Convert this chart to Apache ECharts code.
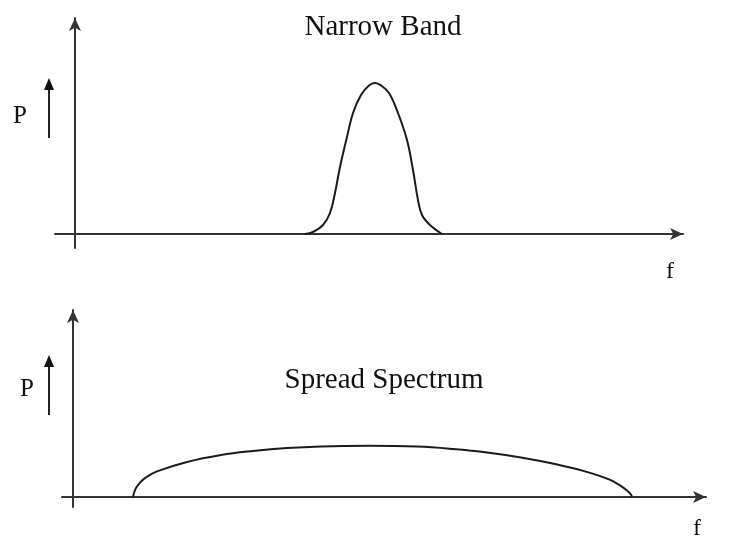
<!DOCTYPE html>
<html>
<head>
<meta charset="utf-8">
<title>Narrow Band vs Spread Spectrum</title>
<script src="https://cdn.jsdelivr.net/npm/echarts@6/dist/echarts.min.js"></script>
<style>
  html, body { margin: 0; padding: 0; background: #fff; }
  #main { width: 740px; height: 544px; }
</style>
</head>
<body>
<div id="main"></div>
<script>
// narrow band spectrum (f, P)
const nbFreq = [115, 119, 124, 127.5, 130, 132.5, 136, 139, 143, 147, 150, 153, 157, 161.5, 166, 169, 171.5, 173.5, 177.5, 183.5]
const nbPower = [0, 1, 4.5, 10.5, 20.5, 33.5, 48.5, 60.5, 69.5, 74.3, 75.5, 74.3, 70.5, 60.5, 47, 32, 17, 9.5, 4.5, 0]

// spread spectrum (f, P)
const ssFreq = [30, 30.5, 31.5, 33.5, 36.5, 42, 57, 74, 90, 107, 124, 148, 172, 190, 207, 224, 241, 256, 268, 273.5, 277, 279, 279.5]
const ssPower = [0, 2, 4.5, 7.2, 9.8, 12.8, 17.5, 21, 23, 24.5, 25.3, 25.6, 25.2, 24, 22.3, 19.8, 16.5, 12.8, 8.8, 5.8, 3.2, 1.2, 0]

const titles = ['Narrow Band', 'Spread Spectrum']
const yName = 'P'
const xName = 'f'

const toPairs = (xs, ys) => xs.map((x, i) => [x, ys[i]])

const axisLine = {
  onZero: true,
  symbol: ['none', 'arrow'],
  symbolSize: [9, 13],
  lineStyle: { color: '#333', width: 2 }
}
const bare = {
  type: 'value',
  axisLine: axisLine,
  axisTick: { show: false },
  axisLabel: { show: false },
  splitLine: { show: false }
}

// little "P ↑" marker left of each y axis
const pArrow = (x, y1, y2) => [
  { type: 'line', shape: { x1: x, y1: y2, x2: x, y2: y1 + 8 }, style: { stroke: '#222', lineWidth: 2 } },
  { type: 'polygon', shape: { points: [[x, y1], [x - 5, y1 + 12], [x + 5, y1 + 12]] }, style: { fill: '#111' } }
]
const serifText = (text, x, y, size) => ({
  type: 'text', x: x, y: y,
  style: {
    text: text, fontSize: size, fontFamily: 'Liberation Serif',
    fill: '#111', align: 'center', verticalAlign: 'middle'
  }
})

const chart = echarts.init(document.getElementById('main'))
chart.setOption({
  animation: false,
  backgroundColor: '#fff',
  grid: [
    { left: 55, right: 57, top: 18, bottom: 296 },
    { left: 62, right: 34, top: 310, bottom: 37 }
  ],
  xAxis: [
    Object.assign({ gridIndex: 0, min: -10, max: 304 }, bare),
    Object.assign({ gridIndex: 1, min: -5.5, max: 316.5 }, bare)
  ],
  yAxis: [
    Object.assign({ gridIndex: 0, min: -7, max: 108 }, bare),
    Object.assign({ gridIndex: 1, min: -5, max: 93.5 }, bare)
  ],
  series: [
    {
      type: 'line', xAxisIndex: 0, yAxisIndex: 0,
      data: toPairs(nbFreq, nbPower),
      smooth: 0.4, showSymbol: false,
      lineStyle: { color: '#1a1a1a', width: 2 }
    },
    {
      type: 'line', xAxisIndex: 1, yAxisIndex: 1,
      data: toPairs(ssFreq, ssPower),
      smooth: 0.4, showSymbol: false,
      lineStyle: { color: '#1a1a1a', width: 2 }
    }
  ],
  graphic: [
    serifText(titles[0], 383, 27, 29),
    serifText(titles[1], 384, 380, 29),
    serifText(yName, 20, 116, 25),
    serifText(yName, 27, 389, 25),
    serifText(xName, 670, 272, 24),
    serifText(xName, 697, 529, 24)
  ].concat(pArrow(49, 78, 138), pArrow(49, 355, 415))
})
</script>
</body>
</html>
